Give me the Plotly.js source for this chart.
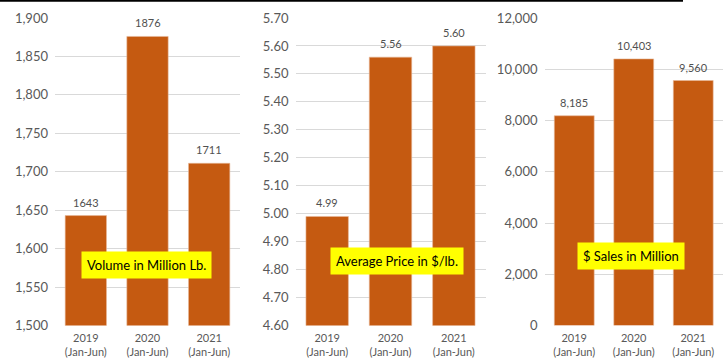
<!DOCTYPE html>
<html>
<head>
<meta charset="utf-8">
<script src="https://cdn.plot.ly/plotly-3.0.1.min.js"></script>
<style>html,body{margin:0;padding:0;background:#fff;}#chart{width:724px;height:358px;}</style>
</head>
<body>
<div id="chart"></div>
<script>
const categories = ["2019<br>(Jan-Jun)", "2020<br>(Jan-Jun)", "2021<br>(Jan-Jun)"];
const volumeMillionLb = [1643, 1876, 1711];
const avgPricePerLb = [4.99, 5.56, 5.60];
const salesMillion = [8185, 10403, 9560];
const panelTitles = ["Volume in Million Lb.", "Average Price in $/lb.", "$ Sales in Million"];

const W = 724, H = 358;
const px = v => v / W;
const py = v => 1 - v / H;
const barColor = "#C55A11";
const font = "Lato, 'Liberation Sans', sans-serif";

function barTrace(y, xa, ya) {
  return {
    type: "bar", x: categories, y: y, xaxis: xa, yaxis: ya,
    marker: {color: barColor, line: {color: "#E8B89A", width: 0.6}},
    hoverinfo: "skip", showlegend: false
  };
}

const data = [
  barTrace(volumeMillionLb, "x", "y"),
  barTrace(avgPricePerLb, "x2", "y2"),
  barTrace(salesMillion, "x3", "y3")
];

function valueLabels(values, xa, ya, fmt) {
  return values.map((v, i) => ({
    text: fmt(v), x: categories[i], y: v, xref: xa, yref: ya,
    xanchor: "center", yanchor: "bottom", yshift: 5, showarrow: false,
    font: {family: font, size: 11, color: "#505050"}
  }));
}

const yDom = [py(325.5), py(18)];
function xAxis(d0, d1, anchor) {
  return {domain: [px(d0), px(d1)], anchor: anchor, showgrid: false, zeroline: false, showline: false,
    ticks: "", ticklabelstandoff: 4, tickfont: {family: font, size: 11, color: "#595959"}, fixedrange: true};
}
function yAxis(range, dtick, fmt, anchor) {
  return {domain: yDom, anchor: anchor, range: range, dtick: dtick, tickformat: fmt,
    showgrid: true, gridcolor: "#D9D9D9", gridwidth: 1, zeroline: false, showline: false, ticks: "",
    ticklabelstandoff: 6, tickfont: {family: font, size: 13, color: "#595959"}, fixedrange: true};
}

function label(text, cx, cy) {
  return {text: text, xref: "paper", yref: "paper", x: px(cx), y: py(cy), xanchor: "center", yanchor: "middle",
    showarrow: false, bgcolor: "#FFFF00", borderpad: 5,
    font: {family: font, size: 13, color: "#000000"}};
}

const layout = {
  width: W, height: H, margin: {l: 0, r: 0, t: 0, b: 0},
  paper_bgcolor: "#ffffff", plot_bgcolor: "rgba(0,0,0,0)",
  bargap: 0.33,
  xaxis: xAxis(55, 240, "y"),
  yaxis: yAxis([1500, 1900], 50, ",d", "x"),
  xaxis2: xAxis(295.5, 485.5, "y2"),
  yaxis2: yAxis([4.6, 5.7], 0.1, ".2f", "x2"),
  xaxis3: xAxis(544.5, 723, "y3"),
  yaxis3: yAxis([0, 12000], 2000, ",d", "x3"),
  annotations: [].concat(
    valueLabels(volumeMillionLb, "x", "y", v => String(v)),
    valueLabels(avgPricePerLb, "x2", "y2", v => v.toFixed(2)),
    valueLabels(salesMillion, "x3", "y3", v => v.toLocaleString("en-US")),
    [label(panelTitles[0], 146, 265),
     label(panelTitles[1], 397, 261),
     label(panelTitles[2], 631, 256)]
  ),
  shapes: [
    {type: "line", xref: "paper", yref: "paper", x0: 0, x1: px(683), y0: py(0.8), y1: py(0.8),
     line: {color: "#000000", width: 2}}
  ]
};

Plotly.newPlot("chart", data, layout, {staticPlot: true, displayModeBar: false});
</script>
</body>
</html>
